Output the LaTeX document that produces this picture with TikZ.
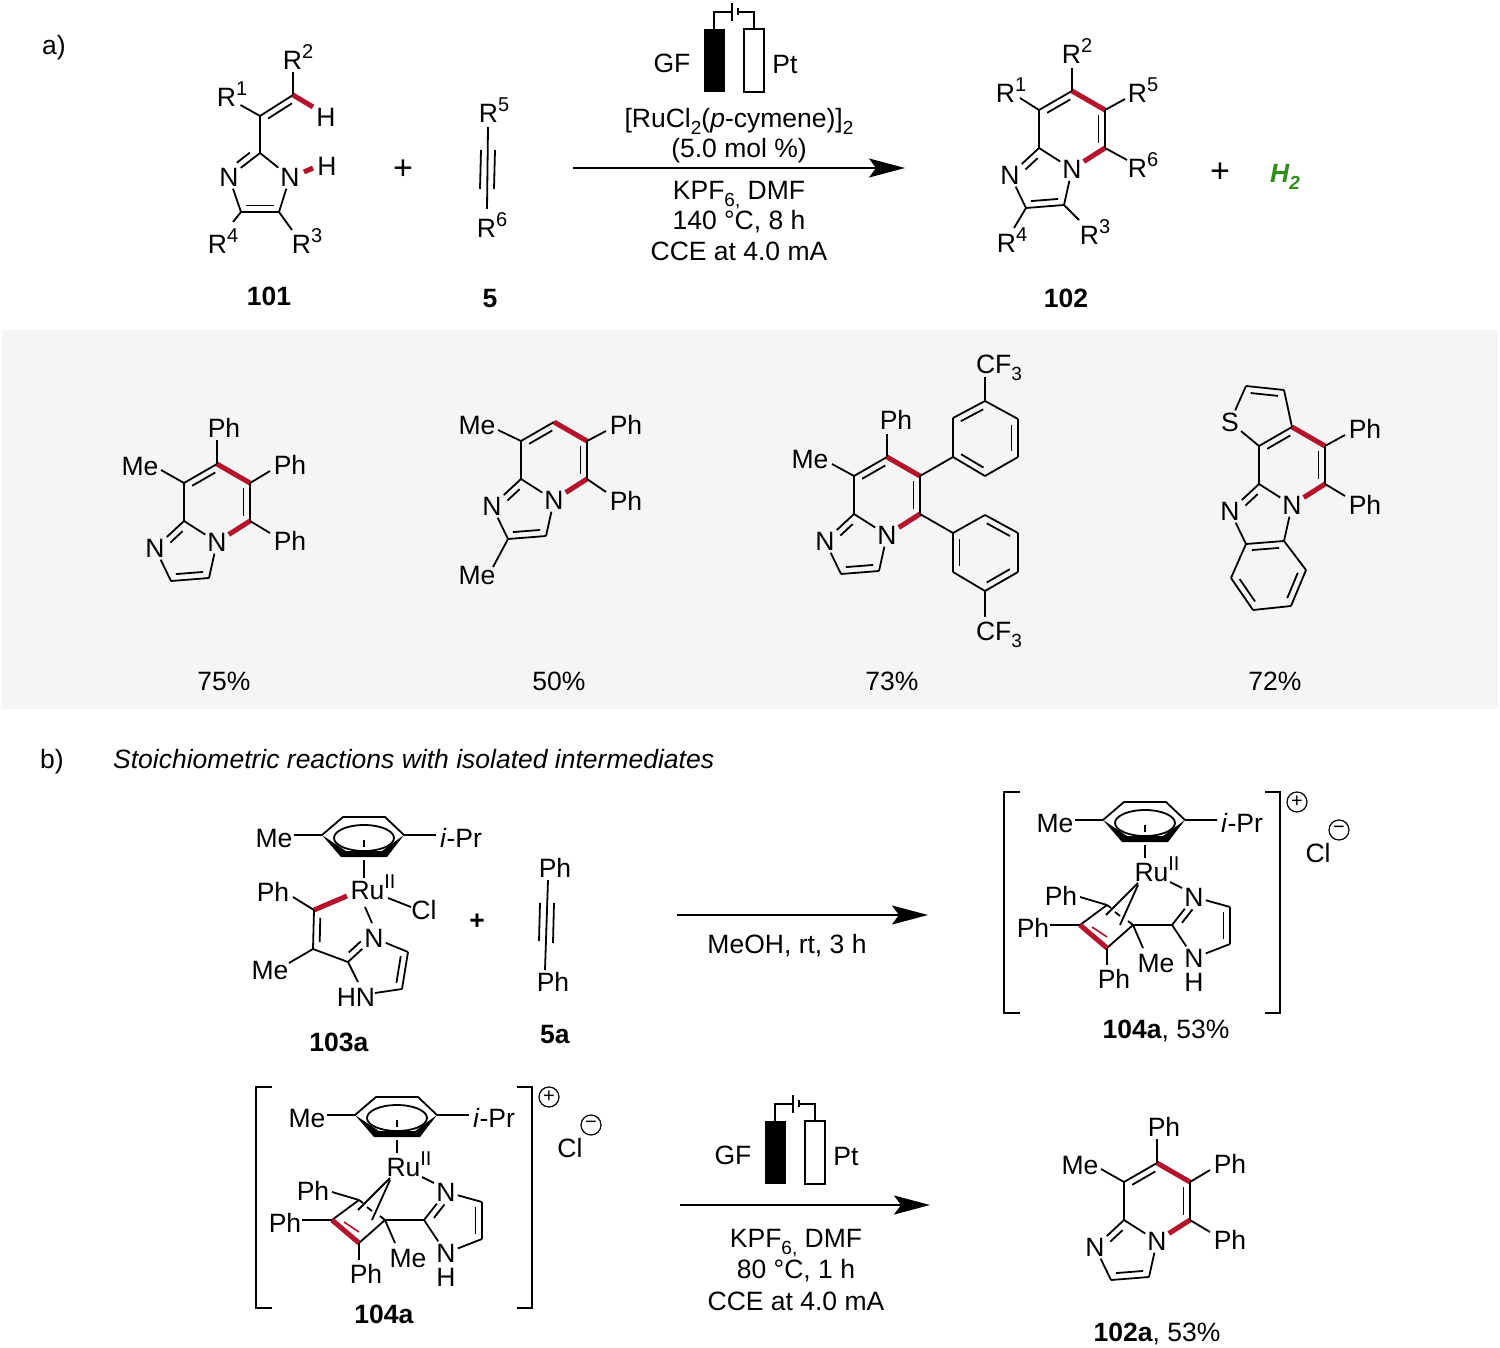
\documentclass[tikz,border=0pt]{standalone}
\usepackage{fontspec}
\setmainfont{Liberation Sans}
\usetikzlibrary{calc,arrows.meta}
\definecolor{redb}{HTML}{B5122B}
\definecolor{greenh}{HTML}{2F8F1A}
\definecolor{panel}{HTML}{F5F5F5}
\newcommand\fs{\fontsize{26.5}{30}\selectfont}
\newcommand\up[1]{\raisebox{.42em}[0pt][0pt]{\fontsize{20}{20}\selectfont #1}}
\newcommand\dn[1]{\raisebox{-.28em}[0pt][0pt]{\fontsize{19}{20}\selectfont #1}}
\newcommand\bigplus{\fontsize{34}{34}\selectfont +}
\newcounter{lb}
\newcommand\lbl[2]{\stepcounter{lb}\node[lab] (lb\thelb) at (#1) {#2};}
\newcommand\bd[2]{\draw[bond] (#1)--(#2);}
\newcommand\rd[2]{\draw[redbond] (#1)--(#2);}
\newcommand\inb[5]{\draw[bond] ($(#1)!#4!(#2)!#3!90:(#2)$) -- ($(#2)!#5!(#1)!#3!-90:(#1)$);}
% imidazo[1,2-a]pyridine core: prefix, centre x, centre y, offset of the C2=C3 inner line
\newcommand\impy[4]{%
\begin{scope}[shift={(#2,#3)},name prefix=#1-]
\coordinate (t) at (0,-38);\coordinate (ur) at (33,-19);\coordinate (lr) at (33,19);
\coordinate (ll) at (-33,19);\coordinate (ul) at (-33,-19);
\coordinate (c3) at (-8,76);\coordinate (c2) at (-46,79);
\node[atom] (n) at (0,40) {N};
\node[atom] (n3) at (-62,46) {N};
\bd{ul}{t}\inb{ul}{t}{-6.5pt}{.15}{.15}
\rd{t}{ur}
\bd{ur}{lr}\inb{ur}{lr}{-6.5pt}{.14}{.14}
\rd{lr}{n}
\bd{n}{ll}\bd{ll}{ul}
\bd{ll}{n3}\inb{ll}{n3}{6.5pt}{.2}{.38}
\bd{n3}{c2}\bd{c2}{c3}\bd{c3}{n}
\inb{c3}{c2}{#4}{.14}{.14}
\end{scope}}
% product with Me, Ph, Ph, Ph
\newcommand\prodA[1]{%
\impy{#1}{217}{502}{-6.5pt}
\bd{#1-t}{217,440}\bd{#1-ul}{161,470}\bd{#1-ur}{270,471}\bd{#1-lr}{270,533}
\lbl{224,428}{Ph}\lbl{140,466}{Me}\lbl{290,465}{Ph}\lbl{290,541}{Ph}}
% electrodes
\newcommand\cell{%
\lbl{672,63}{GF}\lbl{785,64}{Pt}
\fill (704,29) rectangle (725,92);
\draw[bond,fill=white] (744,29) rectangle (764,92);
\draw[bond] (714,29)--(714,12)--(731,12);
\draw[bond] (732,3)--(732,21);
\draw[bond] (738,8)--(738,15);
\draw[bond] (738,12)--(754,12)--(754,29);}
% cymene + Ru: Ru position, end of the stem
\newcommand\cym[2]{%
\draw[bond] (1103,820)--(1124,802)--(1166,802)--(1185,820);
\fill (1103,820)--(1122,842)--(1168,842)--(1185,820)--(1163,836)--(1127,836)--cycle;
\draw[bond] (1145,823) ellipse [x radius=30pt,y radius=13pt];
\draw[bond] (1075,820)--(1103,820);
\draw[bond] (1185,820)--(1217,820);
\draw[bond] (1145,825)--(1145,832);
\draw[bond] (1145,845)--(1145,#2);
\lbl{1055,823}{Me}\lbl{1242,823}{\textit{i}-Pr}\lbl{#1}{Ru\up{II}}}
% ruthenium cyclobutadiene salt
\newcommand\ruc[1]{%
\begin{scope}[name prefix=#1-]
\cym{1157,872}{858}
\draw[bond] (1020,792)--(1004,792)--(1004,1013)--(1020,1013);
\draw[bond] (1265,792)--(1280,792)--(1280,1013)--(1265,1013);
\node[charge] (plus) at (1297,802) {+};
\node[charge] (minus) at (1339,830) {−};
\lbl{1318,853}{Cl}
\coordinate (cl) at (1080,925);\coordinate (ct) at (1107,905);
\coordinate (cb) at (1107,948);\coordinate (cr) at (1133,925);
\coordinate (c2) at (1172,925);\coordinate (c4) at (1230,907);\coordinate (c5) at (1230,944);
\node[atom] (nn) at (1194,897) {N};
\node[atom] (nh) at (1194,958) {N};
\lbl{1194,982}{H}
\lbl{1061,896}{Ph}\lbl{1033,928}{Ph}\lbl{1114,979}{Ph}\lbl{1156,963}{Me}
\bd{1170,882}{1182,888}
\bd{1080,897}{ct}\bd{ct}{cl}\bd{cb}{cr}
\draw[redbond] (cl)--(cb);
\draw[line width=1.6pt,redb] (1092,927)--(1107,937);
\bd{ct}{1111,908}\bd{1115,912}{1120,916}\bd{1128,921}{cr}
\bd{1138,883}{1106,915}\bd{1138,885}{1120,925}
\bd{1050,925}{cl}\bd{cb}{1107,965}\bd{cr}{1143,948}\bd{cr}{c2}
\bd{c2}{nn}\inb{c2}{nn}{-6.5pt}{.22}{.3}
\bd{nn}{c4}\bd{c4}{c5}\inb{c4}{c5}{-6.5pt}{.14}{.14}\bd{c5}{nh}\bd{nh}{c2}
\end{scope}}
\tikzset{
 lab/.style={inner sep=0pt,font=\fs,text=black,text height=19pt,text depth=0pt},
 atom/.style={inner sep=2pt,font=\fs,text=black,text height=19pt,text depth=0pt},
 charge/.style={circle,draw,line width=1.2pt,inner sep=0pt,minimum size=20pt,font=\fontsize{20}{20}\selectfont},
 bond/.style={line width=1.8pt,line cap=butt,line join=miter},
 redbond/.style={line width=5pt,color=redb,line cap=butt},
 react/.style={line width=1.8pt,-{Stealth[length=36pt,width=19pt,inset=7pt]}},
}
\begin{document}
\begin{tikzpicture}[x=1pt,y=-1pt]
\useasboundingbox (0,0) rectangle (1500,1348);
\fill[white] (0,0) rectangle (1500,1348);
\fill[panel] (2,330) rectangle (1498,709);
% ---- a)
\lbl{54,45}{a)}
% 101
\coordinate (a-c1) at (260,116);\coordinate (a-c2) at (293,95);\coordinate (a-c3) at (260,153);
\coordinate (a-c4) at (241,212);\coordinate (a-c5) at (279,212);
\node[atom] (a-n1) at (229,177) {N};
\node[atom] (a-n2) at (290,177) {N};
\lbl{327,166}{H}\lbl{326,117}{H}
\lbl{298,60}{R\up{2}}\lbl{232,97}{R\up{1}}\lbl{223,244}{R\up{4}}\lbl{307,244}{R\up{3}}
\bd{a-c1}{a-c2}\inb{a-c1}{a-c2}{-6.5pt}{.14}{.14}
\bd{a-c2}{293,72}\bd{a-c1}{240.5,105}\rd{a-c2}{313,107}
\bd{a-c1}{a-c3}\bd{a-c3}{a-n1}\inb{a-c3}{a-n1}{-6.5pt}{.2}{.38}
\bd{a-c3}{a-n2}\bd{a-n1}{a-c4}\bd{a-c4}{a-c5}\inb{a-c4}{a-c5}{6.5pt}{.14}{.14}\bd{a-c5}{a-n2}
\bd{a-c4}{233,222}\bd{a-c5}{292,230}
\rd{304,172}{313,168}
\lbl{269,296}{\textbf{101}}
\lbl{403,170.5}{\bigplus}
% 5
\lbl{494,113}{R\up{5}}\lbl{492,228}{R\up{6}}
\bd{488,127}{487,209}\bd{481,150}{480,189}\bd{495,150}{494,189}
\lbl{490,298}{\textbf{5}}
% conditions
\draw[react] (573,168)--(905,168);
\cell
\lbl{739,118}{[RuCl\dn{2}(\textit{p}-cymene)]\dn{2}}
\lbl{739,148}{(5.0 mol \%)}
\lbl{739,190}{KPF\dn{6,} DMF}
\lbl{739,220}{140 °C, 8 h}
\lbl{739,251}{CCE at 4.0 mA}
% 102
\impy{b}{1072}{129}{-6.5pt}
\lbl{1077,54}{R\up{2}}\lbl{1011,93}{R\up{1}}\lbl{1143,93}{R\up{5}}\lbl{1143,168}{R\up{6}}
\lbl{1012,243}{R\up{4}}\lbl{1095,235}{R\up{3}}
\bd{b-t}{1072,68}\bd{b-ul}{1020,98}\bd{b-ur}{1125,99}\bd{b-lr}{1127,160}
\bd{b-c3}{1079,220}\bd{b-c2}{1014,228}
\lbl{1220,173.5}{\bigplus}
\lbl{1285,173}{\textcolor{greenh}{\textbf{\textit{H\dn{2}}}}}
\lbl{1066,298}{\textbf{102}}
% ---- panel
\prodA{p}
\lbl{224,681}{75\%}
\impy{q}{554}{460}{-6.5pt}
\lbl{477,425}{Me}\lbl{626,425}{Ph}\lbl{626,501}{Ph}\lbl{477,575}{Me}
\bd{q-ul}{498,430}\bd{q-ur}{606,431}\bd{q-lr}{606,492}\bd{q-c2}{493,567}
\lbl{559,681}{50\%}
% CF3 compound
\impy{r}{887}{495}{-6.5pt}
\lbl{810,459}{Me}\lbl{896,420}{Ph}
\bd{r-t}{887,434}\bd{r-ul}{832,464}
\coordinate (u1) at (953,457);\coordinate (u2) at (953,418);\coordinate (u3) at (985,401);
\coordinate (u4) at (1018,419);\coordinate (u5) at (1018,457);\coordinate (u6) at (985,476);
\bd{r-ur}{u1}\bd{u1}{u2}\bd{u2}{u3}\bd{u3}{u4}\bd{u4}{u5}\bd{u5}{u6}\bd{u6}{u1}
\inb{u2}{u3}{-6.5pt}{.15}{.15}\inb{u4}{u5}{-6.5pt}{.15}{.15}\inb{u6}{u1}{-6.5pt}{.15}{.15}
\bd{u3}{985,377}\lbl{999,364}{CF\dn{3}}
\coordinate (v1) at (953,533);\coordinate (v2) at (985,515);\coordinate (v3) at (1018,533);
\coordinate (v4) at (1018,572);\coordinate (v5) at (985,591);\coordinate (v6) at (953,572);
\bd{r-lr}{v1}\bd{v1}{v2}\bd{v2}{v3}\bd{v3}{v4}\bd{v4}{v5}\bd{v5}{v6}\bd{v6}{v1}
\inb{v2}{v3}{-6.5pt}{.15}{.15}\inb{v4}{v5}{-6.5pt}{.15}{.15}\inb{v6}{v1}{-6.5pt}{.15}{.15}
\bd{v5}{985,617}\lbl{999,631}{CF\dn{3}}
\lbl{892,681}{73\%}
% thieno-fused compound
\impy{s}{1292}{465}{6.5pt}
\lbl{1365,429}{Ph}\lbl{1365,505}{Ph}
\bd{s-ur}{1345,435}\bd{s-lr}{1345,496}
\node[atom] (s-s) at (1230,422) {S};
\coordinate (s-a) at (1284,390);\coordinate (s-b) at (1246,386);
\bd{s-ul}{s-s}\bd{s-s}{s-b}\bd{s-b}{s-a}\bd{s-a}{s-t}\inb{s-b}{s-a}{-6.5pt}{.14}{.14}
\coordinate (s-d) at (1231,578);\coordinate (s-e) at (1253,610);\coordinate (s-f) at (1291,606);\coordinate (s-g) at (1306,570);
\bd{s-c2}{s-d}\bd{s-d}{s-e}\bd{s-e}{s-f}\bd{s-f}{s-g}\bd{s-g}{s-c3}
\inb{s-d}{s-e}{6.5pt}{.15}{.15}\inb{s-f}{s-g}{6.5pt}{.15}{.15}
\lbl{1275,681}{72\%}
% ---- b)
\lbl{52,759}{b)}
\node[lab,anchor=west] (title) at (113,759) {\textit{Stoichiometric reactions with isolated intermediates}};
% 103a
\begin{scope}[shift={(-781,15)}]\cym{1154,875}{863}\end{scope}
\lbl{273,892}{Ph}\lbl{424,910}{Cl}\lbl{270,970}{Me}
\node[atom] (t-n) at (374,938) {N};
\lbl{356,997}{HN}
\coordinate (t-a) at (314,910);\coordinate (t-b) at (313,949);\coordinate (t-c) at (348,962);
\coordinate (t-d) at (408,952);\coordinate (t-e) at (402,989);
\bd{388,898}{411,907}\bd{293,897}{t-a}\rd{t-a}{347,896}
\bd{t-a}{t-b}\inb{t-a}{t-b}{6.5pt}{.2}{.18}
\bd{289,963}{t-b}\bd{t-b}{t-c}\bd{t-c}{t-n}\inb{t-c}{t-n}{6.5pt}{.2}{.34}
\bd{365,907}{372,923}\bd{t-n}{t-d}\bd{t-d}{t-e}\inb{t-d}{t-e}{-6.5pt}{.14}{.14}
\bd{t-e}{375,993}\bd{t-c}{358,982}
\lbl{477,920}{\textbf{+}}
\lbl{339,1042}{\textbf{103a}}
% 5a
\lbl{555,868}{Ph}\lbl{553,982}{Ph}
\bd{548,880}{545,970}\bd{540,903}{539,941}\bd{554,903}{553,943}
\lbl{555,1034}{\textbf{5a}}
\draw[react] (677,915)--(928,915);
\lbl{787,944}{MeOH, rt, 3 h}
\ruc{w}
\lbl{1166,1029}{\textbf{104a}, 53\%}
% second line
\begin{scope}[shift={(-748,295)}]\ruc{x}\end{scope}
\lbl{384,1314}{\textbf{104a}}
\begin{scope}[shift={(61,1092)}]\cell\end{scope}
\draw[react] (680,1205)--(930,1205);
\lbl{796,1238}{KPF\dn{6,} DMF}
\lbl{796,1269}{80 °C, 1 h}
\lbl{796,1301}{CCE at 4.0 mA}
\begin{scope}[shift={(940,699)}]\prodA{y}\end{scope}
\lbl{1157,1332}{\textbf{102a}, 53\%}
\end{tikzpicture}
\end{document}
